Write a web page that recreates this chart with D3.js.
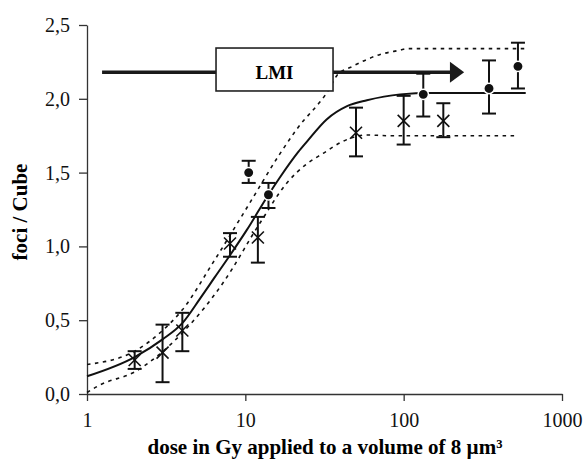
<!DOCTYPE html>
<html>
<head>
<meta charset="utf-8">
<script src="https://cdn.jsdelivr.net/npm/d3@7"></script>
<style>
  body { margin: 0; background: #fff; }
  text { font-family: "Liberation Serif", "Times New Roman", serif; }
</style>
</head>
<body>
<svg id="chart" width="585" height="462"></svg>
<script>
// measured points (X markers)
var crossDose = [2, 3, 4, 8, 12, 50, 100, 178];
var crossVal  = [0.23, 0.28, 0.43, 1.02, 1.06, 1.77, 1.85, 1.85];
var crossLo   = [0.17, 0.08, 0.29, 0.93, 0.89, 1.61, 1.69, 1.74];
var crossHi   = [0.29, 0.47, 0.55, 1.09, 1.20, 1.94, 2.02, 1.97];

// measured points (dots)
var dotDose = [10.5, 14, 133, 346, 527];
var dotVal  = [1.50, 1.35, 2.03, 2.07, 2.22];
var dotLo   = [1.43, 1.26, 1.88, 1.90, 2.07];
var dotHi   = [1.58, 1.43, 2.17, 2.26, 2.38];

// fit curve and its band
var fitDose = [1, 2, 3, 4, 5.2, 6.4, 8, 10.2, 14, 16.6, 21.6, 24.5, 32.6, 43.9, 58.6, 95, 150, 590];
var fitVal  = [0.12, 0.25, 0.37, 0.48, 0.65, 0.79, 0.94, 1.11, 1.35, 1.47, 1.64, 1.71, 1.86, 1.95, 1.99, 2.03, 2.04, 2.04];
var upDose  = [1, 2, 3, 4, 6.25, 10.2, 16.6, 21, 34, 38, 47.6, 71, 95, 105, 590];
var upVal   = [0.20, 0.29, 0.43, 0.57, 0.89, 1.26, 1.63, 1.79, 2.07, 2.16, 2.22, 2.30, 2.33, 2.34, 2.34];
var loDose  = [1, 1.2, 2, 2.8, 4.3, 7.2, 12.4, 18.3, 24.5, 31, 41, 58.6, 80, 520];
var loVal   = [0.01, 0.06, 0.15, 0.26, 0.45, 0.75, 1.16, 1.43, 1.56, 1.63, 1.71, 1.755, 1.75, 1.75];

var xTicks = [1, 10, 100, 1000];
var yTicks = [0, 0.5, 1, 1.5, 2, 2.5];

var svg = d3.select("#chart");

var x = d3.scaleLog().domain([1, 1000]).range([87, 562]);
var y = d3.scaleLinear().domain([0, 2.5]).range([394, 25]);

// axes
var xAxis = svg.append("g").attr("transform", "translate(0," + y(0) + ")")
  .call(d3.axisBottom(x).tickValues(xTicks).tickFormat(d3.format("d"))
    .tickSize(7).tickSizeOuter(0).tickPadding(12));
var yAxis = svg.append("g").attr("transform", "translate(" + x(1) + ",0)")
  .call(d3.axisLeft(y).tickValues(yTicks)
    .tickFormat(function(d){ return d3.format(".1f")(d).replace(".", ","); })
    .tickSize(8).tickSizeOuter(0).tickPadding(9));
[xAxis, yAxis].forEach(function(a){
  a.selectAll("path, line").attr("stroke", "#333").attr("stroke-width", 1.3);
  a.selectAll("text").attr("font-size", 20).attr("fill", "#111")
    .attr("font-family", "Liberation Serif, Times New Roman, serif");
});

// band + fit
function pts(ds, vs){ return ds.map(function(d, i){ return [d, vs[i]]; }); }
var line = d3.line().x(function(d){ return x(d[0]); }).y(function(d){ return y(d[1]); })
  .curve(d3.curveMonotoneX);

svg.append("path").attr("d", line(pts(upDose, upVal)))
  .attr("fill", "none").attr("stroke", "#111").attr("stroke-width", 1.6).attr("stroke-dasharray", "3.5,4.5");
svg.append("path").attr("d", line(pts(loDose, loVal)))
  .attr("fill", "none").attr("stroke", "#111").attr("stroke-width", 1.6).attr("stroke-dasharray", "3.5,4.5");
svg.append("path").attr("d", line(pts(fitDose, fitVal)))
  .attr("fill", "none").attr("stroke", "#111").attr("stroke-width", 2);

// LMI arrow annotation
var arrowY = 2.18, arrowFrom = 1.245, arrowBase = 196, arrowTip = 241;
svg.append("line").attr("x1", x(arrowFrom)).attr("x2", x(arrowBase) + 1)
  .attr("y1", y(arrowY)).attr("y2", y(arrowY))
  .attr("stroke", "#1a1a1a").attr("stroke-width", 3.5);
svg.append("path")
  .attr("d", "M" + x(arrowBase) + "," + (y(arrowY) - 10.5) + "L" + x(arrowTip) + "," + y(arrowY) +
             "L" + x(arrowBase) + "," + (y(arrowY) + 10.5) + "Z")
  .attr("fill", "#1a1a1a");
var boxX0 = 6.53, boxX1 = 35.8, boxY0 = 2.344, boxY1 = 2.053;
svg.append("rect").attr("x", x(boxX0)).attr("y", y(boxY0))
  .attr("width", x(boxX1) - x(boxX0)).attr("height", y(boxY1) - y(boxY0))
  .attr("fill", "#fff").attr("stroke", "#222").attr("stroke-width", 1.6);
svg.append("text").attr("x", (x(boxX0) + x(boxX1)) / 2).attr("y", y(arrowY) + 6.5)
  .attr("text-anchor", "middle").attr("font-size", 19).attr("font-weight", "bold")
  .text("LMI");

// error bars
function errBars(ds, lo, hi){
  var g = svg.append("g").attr("stroke", "#111").attr("stroke-width", 2);
  ds.forEach(function(d, i){
    var cx = x(d);
    g.append("line").attr("x1", cx).attr("x2", cx).attr("y1", y(lo[i])).attr("y2", y(hi[i]));
    g.append("line").attr("x1", cx - 7).attr("x2", cx + 7).attr("y1", y(lo[i])).attr("y2", y(lo[i]));
    g.append("line").attr("x1", cx - 7).attr("x2", cx + 7).attr("y1", y(hi[i])).attr("y2", y(hi[i]));
  });
}
errBars(crossDose, crossLo, crossHi);
errBars(dotDose, dotLo, dotHi);

var cg = svg.append("g").attr("stroke", "#111").attr("stroke-width", 1.6);
crossDose.forEach(function(d, i){
  var cx = x(d), cy = y(crossVal[i]), s = 6;
  cg.append("line").attr("x1", cx - s).attr("x2", cx + s).attr("y1", cy - s).attr("y2", cy + s);
  cg.append("line").attr("x1", cx - s).attr("x2", cx + s).attr("y1", cy + s).attr("y2", cy - s);
});

svg.append("g").selectAll("circle").data(dotDose).enter().append("circle")
  .attr("cx", function(d){ return x(d); })
  .attr("cy", function(d, i){ return y(dotVal[i]); })
  .attr("r", 5.2).attr("fill", "#111").attr("stroke", "#fff").attr("stroke-width", 1.5);

// titles
svg.append("text").attr("x", 325).attr("y", 454).attr("text-anchor", "middle")
  .attr("font-size", 21).attr("font-weight", "bold")
  .text("dose in Gy applied to a volume of 8 µm³");
svg.append("text").attr("transform", "translate(27,212) rotate(-90)").attr("text-anchor", "middle")
  .attr("font-size", 21).attr("font-weight", "bold")
  .text("foci / Cube");
</script>
</body>
</html>
